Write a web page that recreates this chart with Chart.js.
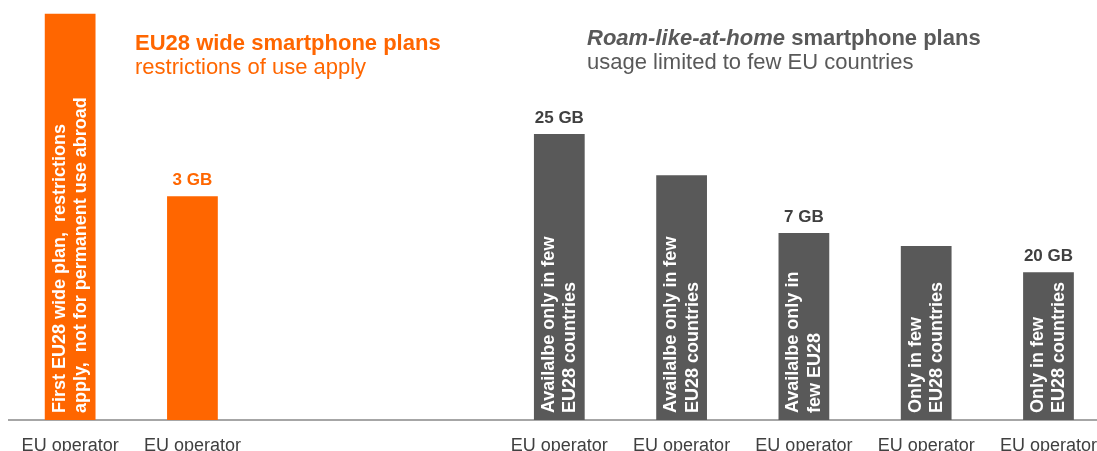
<!DOCTYPE html>
<html>
<head>
<meta charset="utf-8">
<script src="https://cdn.jsdelivr.net/npm/chart.js@4/dist/chart.umd.min.js"></script>
<style>
  html, body { margin: 0; padding: 0; background: #fff; overflow: hidden; width: 1097px; height: 451px; }
  #wrap { position: relative; width: 1112px; height: 451px; }
  .ttl { position: absolute; font-family: "Liberation Sans", Arial, sans-serif; font-size: 22px; line-height: 24px; white-space: nowrap; }
  .ttl b { font-weight: bold; }
</style>
</head>
<body>
<div id="wrap">
  <canvas id="c"></canvas>
  <div class="ttl" style="left:135px; top:31px; color:#FF6600;"><b>EU28 wide smartphone plans</b><br>restrictions of use apply</div>
  <div class="ttl" style="left:587px; top:26px; color:#595959;"><b><i>Roam-like-at-home</i> smartphone plans</b><br>usage limited to few EU countries</div>
</div>
<script>
// ---- data ----
const categories = ["EU operator", "EU operator", "", "", "EU operator", "EU operator", "EU operator", "EU operator", "EU operator"];
const values = [96.7, 53.3, null, null, 68.1, 58.3, 44.5, 41.4, 35.2];
const valueLabels = ["", "3 GB", "", "", "25 GB", "", "7 GB", "", "20 GB"];
const barNotes = [
  ["First EU28 wide plan,  restrictions", "apply,  not for permanent use abroad"],
  [],
  [],
  [],
  ["Availalbe only in few", "EU28 countries"],
  ["Availalbe only in few", "EU28 countries"],
  ["Availalbe only in", "few EU28"],
  ["Only in few", "EU28 countries"],
  ["Only in few", "EU28 countries"]
];
const planGroup = ["eu28", "eu28", "", "", "rlah", "rlah", "rlah", "rlah", "rlah"];

const ORANGE = "#FF6600";
const GREY = "#595959";
const barColors = planGroup.map(g => g === "eu28" ? ORANGE : GREY);
const labelColors = planGroup.map(g => g === "eu28" ? ORANGE : "#404040");

const annotate = {
  id: "annotate",
  afterDatasetsDraw(chart) {
    const ctx = chart.ctx;
    const meta = chart.getDatasetMeta(0);
    meta.data.forEach((bar, i) => {
      if (values[i] == null) return;
      const p = bar.getProps(["x", "y", "base", "width"], true);
      if (valueLabels[i]) {
        ctx.save();
        ctx.font = "bold 17px 'Liberation Sans', Arial, sans-serif";
        ctx.fillStyle = labelColors[i];
        ctx.textAlign = "center";
        ctx.textBaseline = "alphabetic";
        ctx.fillText(valueLabels[i], p.x, p.y - 11);
        ctx.restore();
      }
      const lines = barNotes[i];
      if (lines && lines.length) {
        ctx.save();
        ctx.beginPath();
        ctx.rect(p.x - p.width / 2, p.y, p.width, p.base - p.y);
        ctx.clip();
        ctx.translate(p.x, p.base);
        ctx.rotate(-Math.PI / 2);
        ctx.font = "bold 18px 'Liberation Sans', Arial, sans-serif";
        ctx.fillStyle = "#FFFFFF";
        ctx.textAlign = "left";
        ctx.textBaseline = "middle";
        lines.forEach((ln, k) => {
          ctx.fillText(ln, 7, -10.5 + 21.5 * k);
        });
        ctx.restore();
      }
    });
  }
};

new Chart(document.getElementById("c"), {
  type: "bar",
  data: {
    labels: categories,
    datasets: [{
      data: values,
      backgroundColor: barColors,
      borderWidth: 0,
      barPercentage: 0.415,
      categoryPercentage: 1.0
    }]
  },
  options: {
    responsive: true,
    maintainAspectRatio: false,
    animation: false,
    layout: { padding: { left: 9, right: 0, top: 0, bottom: 0 } },
    plugins: { legend: { display: false }, tooltip: { enabled: false } },
    scales: {
      y: { display: false, min: 0, max: 100 },
      x: {
        grid: { display: false, drawTicks: false },
        border: { display: true, color: "#A6A6A6", width: 2 },
        ticks: {
          color: "#404040",
          padding: 15,
          maxRotation: 0,
          autoSkip: false,
          font: { family: "'Liberation Sans', Arial, sans-serif", size: 18 }
        },
        afterFit(scale) { scale.height = 31; }
      }
    }
  },
  plugins: [annotate]
});
</script>
</body>
</html>
